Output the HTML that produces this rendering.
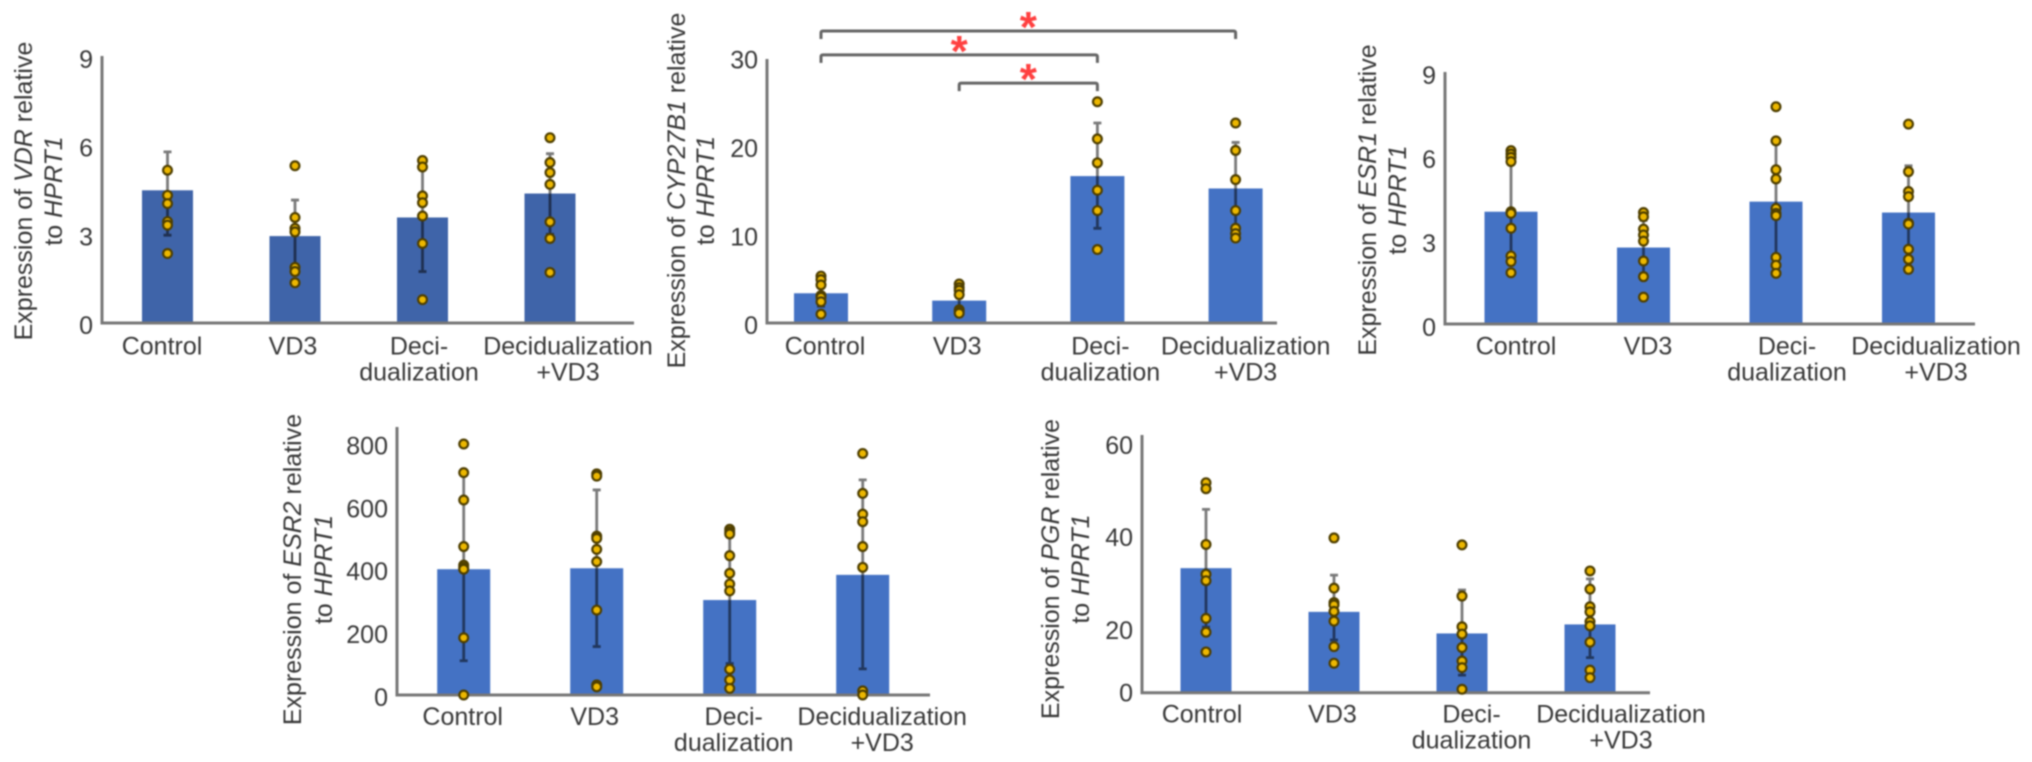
<!DOCTYPE html>
<html lang="en">
<head>
<meta charset="utf-8">
<title>Gene expression relative to HPRT1</title>
<style>
html,body{margin:0;padding:0;background:#fff;width:2032px;height:762px;overflow:hidden}
svg{display:block;filter:blur(.8px)}
text{font-family:"Liberation Sans",sans-serif;font-size:25px;fill:#383838}
</style>
</head>
<body>
<svg id="figure" xmlns="http://www.w3.org/2000/svg" width="2032" height="762" viewBox="0 0 2032 762"></svg>
<script>
const categories = [['Control'], ['VD3'], ['Deci-', 'dualization'], ['Decidualization', '+VD3']];

const vdrTicks = [0, 3, 6, 9];
const vdrMeans = [4.49, 2.94, 3.57, 4.38];
const vdrErrHigh = [5.79, 4.16, 5.4, 5.73];
const vdrErrLow = [2.97, 1.72, 1.74, 3.0];
const vdrControl = [5.17, 4.32, 4.04, 3.43, 3.31, 2.35];
const vdrVd3 = [5.32, 3.57, 3.2, 3.08, 1.88, 1.74, 1.36];
const vdrDecid = [5.5, 5.28, 4.3, 4.07, 3.62, 2.69, 0.79];
const vdrDecidVd3 = [6.27, 5.43, 5.09, 4.69, 3.42, 2.86, 1.71];

const cypTicks = [0, 10, 20, 30];
const cypMeans = [3.36, 2.53, 16.6, 15.2];
const cypErrHigh = [4.8, 3.6, 22.6, 20.4];
const cypErrLow = [1.9, 1.4, 10.7, 10.0];
const cypControl = [5.3, 4.9, 4.3, 3.1, 2.9, 2.4, 1.0];
const cypVd3 = [4.4, 4.0, 3.7, 3.2, 1.5, 1.3, 1.1];
const cypDecid = [25.0, 20.8, 18.1, 15.0, 12.7, 8.3];
const cypDecidVd3 = [22.6, 19.5, 16.2, 12.7, 10.7, 10.1, 9.6];
const sigFrom = [0, 0, 1];
const sigTo = [3, 2, 2];
const sigLevel = [33.0, 30.3, 27.1];

const esr1Ticks = [0, 3, 6, 9];
const esr1Means = [4.01, 2.73, 4.37, 3.98];
const esr1ErrHigh = [5.8, 3.7, 6.54, 5.65];
const esr1ErrLow = [2.2, 1.8, 2.2, 2.3];
const esr1Control = [6.19, 6.07, 5.95, 5.8, 4.01, 3.95, 3.42, 2.43, 2.23, 1.83];
const esr1Vd3 = [3.98, 3.83, 3.39, 3.18, 2.96, 2.25, 1.69, 0.96];
const esr1Decid = [7.76, 6.54, 5.51, 5.18, 4.13, 3.95, 3.87, 2.38, 2.1, 1.81];
const esr1DecidVd3 = [7.14, 5.44, 4.73, 4.55, 3.6, 3.57, 2.67, 2.31, 1.95];

const esr2Ticks = [0, 200, 400, 600, 800];
const esr2Means = [400, 403, 302, 382];
const esr2ErrHigh = [700, 652, 505, 684];
const esr2ErrLow = [109, 154, 100, 83];
const esr2Control = [798, 707, 620, 472, 413, 406, 400, 182, 0];
const esr2Vd3 = [703, 696, 505, 498, 463, 424, 270, 32, 26];
const esr2Decid = [527, 519, 512, 443, 387, 353, 331, 82, 48, 21];
const esr2DecidVd3 = [768, 641, 575, 551, 472, 406, 13, 0];

const pgrTicks = [0, 20, 40, 60];
const pgrMeans = [33.3, 23.9, 18.9, 21.2];
const pgrErrHigh = [46, 31.8, 28.6, 31];
const pgrErrLow = [20.6, 16.8, 5.6, 11.2];
const pgrControl = [51.8, 50.5, 38.4, 32.0, 30.6, 22.5, 19.3, 13.0];
const pgrVd3 = [39.8, 29, 25.9, 25.4, 24, 21.9, 14.7, 9.4];
const pgrDecid = [38.3, 27.3, 20.7, 18.7, 14.4, 10.1, 8, 1.1];
const pgrDecidVd3 = [32.7, 28.8, 25, 23.9, 21.8, 20.9, 16.1, 7.2, 4.8];

const NS = 'http://www.w3.org/2000/svg';
const root = document.getElementById('figure');

function make(tag, attrs, parent) {
  const el = document.createElementNS(NS, tag);
  for (const k in attrs) el.setAttribute(k, attrs[k]);
  parent.appendChild(el);
  return el;
}

/* piecewise-linear axis: passes through every tick */
function axisScale(ticks, pixels) {
  return function (v) {
    for (let i = 0; i < ticks.length - 1; i++) {
      if (v <= ticks[i + 1] || i === ticks.length - 2) {
        const t = (v - ticks[i]) / (ticks[i + 1] - ticks[i]);
        return pixels[i] + t * (pixels[i + 1] - pixels[i]);
      }
    }
    return pixels[0];
  };
}

function drawChart(c) {
  const g = make('g', {}, root);
  
  
  const y = axisScale(c.ticks, c.tickPx);
  const xAt = i => c.x0 + i * c.step;
  const base = y(0);

  /* title */
  const t1 = make('text', { transform: 'translate(' + c.titleX[0] + ',' + c.titleY + ') rotate(-90)', 'text-anchor': 'middle' }, g);
  
  
  t1.appendChild(document.createTextNode('Expression of '));
  const gene = make('tspan', { 'font-style': 'italic' }, t1);
  gene.textContent = c.gene;
  t1.appendChild(document.createTextNode(' relative'));
  const t2 = make('text', { transform: 'translate(' + c.titleX[1] + ',' + c.titleY + ') rotate(-90)', 'text-anchor': 'middle' }, g);
  
  
  t2.appendChild(document.createTextNode('to '));
  const ref = make('tspan', { 'font-style': 'italic' }, t2);
  ref.textContent = 'HPRT1';

  /* tick labels */
  c.ticks.forEach(function (tick) {
    const lab = make('text', { x: c.axisX - 9, y: y(tick) + c.labelDy, 'text-anchor': 'end' }, g);
    
    
    lab.textContent = tick;
  });

  /* bars */
  c.means.forEach(function (m, i) {
    const bar = make('rect', { x: xAt(i) - c.barW / 2, y: y(m), width: c.barW, height: base - y(m), fill: c.barFill }, g);
    
    
  });

  /* axes */
  const axis = make('path', { d: 'M' + c.axisX + ' ' + c.axisTop + 'V' + base + 'H' + c.axisEnd, fill: 'none', stroke: '#777', 'stroke-width': 3 }, g);
  
  

  /* error bars */
  c.means.forEach(function (m, i) {
    const x = xAt(i);
    const e = make('path', {
      d: 'M' + x + ' ' + y(c.errHigh[i]) + 'V' + y(c.errLow[i]) +
         'M' + (x - 4) + ' ' + y(c.errHigh[i]) + 'H' + (x + 4) +
         'M' + (x - 4) + ' ' + y(c.errLow[i]) + 'H' + (x + 4),
      fill: 'none', stroke: '#7a7a7a', 'stroke-width': 2.8, style: 'mix-blend-mode:multiply'
    }, g);
    
    
  });

  /* individual points */
  c.points.forEach(function (series, i) {
    series.forEach(function (v) {
      const p = make('circle', { cx: xAt(i), cy: y(v), r: 4.4, fill: '#ecb700', stroke: '#4f3f00', 'stroke-width': 2.2 }, g);
      
      
    });
  });

  /* category labels */
  categories.forEach(function (lines, i) {
    lines.forEach(function (line, j) {
      const lab = make('text', { x: xAt(i) + c.labelDx[i], y: base + c.catDy + j * 26, 'text-anchor': 'middle' }, g);
      
      
      lab.textContent = line;
    });
  });

  /* significance brackets */
  if (c.sig) {
    c.sig.from.forEach(function (a, k) {
      const xa = xAt(a), xb = xAt(c.sig.to[k]), ly = y(c.sig.level[k]);
      const br = make('path', {
        d: 'M' + xa + ' ' + (ly + 8) + 'V' + (ly + 2) + 'Q' + xa + ' ' + ly + ' ' + (xa + 2) + ' ' + ly +
           'H' + (xb - 2) + 'Q' + xb + ' ' + ly + ' ' + xb + ' ' + (ly + 2) + 'V' + (ly + 8),
        fill: 'none', stroke: '#666', 'stroke-width': 3
      }, g);
      
      
      const star = make('text', { x: (xa + xb) / 2, y: ly + 11, 'text-anchor': 'middle', style: 'font-size:44px;fill:#ff4040;font-weight:bold' }, g);
      
      
      star.textContent = '*';
    });
  }
}

drawChart({
  name: 'vdr', gene: 'VDR', ticks: vdrTicks, tickPx: [323, 234.3, 145.7, 57],
  means: vdrMeans, errHigh: vdrErrHigh, errLow: vdrErrLow,
  points: [vdrControl, vdrVd3, vdrDecid, vdrDecidVd3],
  x0: 167.5, step: 127.5, barW: 51, barFill: '#3f64a9',
  axisX: 102, axisTop: 56, axisEnd: 634, labelDy: 11, catDy: 31.7,
  labelDx: [-5.5, -2, -3.5, 18], titleX: [32, 62], titleY: 191
});

drawChart({
  name: 'cyp27b1', gene: 'CYP27B1', ticks: cypTicks, tickPx: [323, 234.5, 146, 57.5],
  means: cypMeans, errHigh: cypErrHigh, errLow: cypErrLow,
  points: [cypControl, cypVd3, cypDecid, cypDecidVd3],
  x0: 821, step: 138.2, barW: 54, barFill: '#4472c4',
  axisX: 767, axisTop: 59, axisEnd: 1277, labelDy: 11, catDy: 31.7,
  labelDx: [4, -2, 3, 10], titleX: [685, 714], titleY: 190.5,
  sig: { from: sigFrom, to: sigTo, level: sigLevel }
});

drawChart({
  name: 'esr1', gene: 'ESR1', ticks: esr1Ticks, tickPx: [324, 240, 156, 72],
  means: esr1Means, errHigh: esr1ErrHigh, errLow: esr1ErrLow,
  points: [esr1Control, esr1Vd3, esr1Decid, esr1DecidVd3],
  x0: 1511, step: 132.5, barW: 53, barFill: '#4472c4',
  axisX: 1445, axisTop: 72, axisEnd: 1975, labelDy: 12, catDy: 30.7,
  labelDx: [5, 4.5, 11, 27.5], titleX: [1376, 1406], titleY: 200
});

drawChart({
  name: 'esr2', gene: 'ESR2', ticks: esr2Ticks, tickPx: [695, 632.1, 569.2, 506.3, 443.4],
  means: esr2Means, errHigh: esr2ErrHigh, errLow: esr2ErrLow,
  points: [esr2Control, esr2Vd3, esr2Decid, esr2DecidVd3],
  x0: 463.7, step: 133, barW: 53, barFill: '#4472c4',
  axisX: 397, axisTop: 427, axisEnd: 930, labelDy: 11, catDy: 30,
  labelDx: [-1, -2, 4, 19.5], titleX: [301, 332], titleY: 569.5
});

drawChart({
  name: 'pgr', gene: 'PGR', ticks: pgrTicks, tickPx: [692.7, 630, 537, 445],
  means: pgrMeans, errHigh: pgrErrHigh, errLow: pgrErrLow,
  points: [pgrControl, pgrVd3, pgrDecid, pgrDecidVd3],
  x0: 1206, step: 128, barW: 51, barFill: '#4472c4',
  axisX: 1142, axisTop: 435, axisEnd: 1650, labelDy: 9, catDy: 29.6,
  labelDx: [-4, -1.5, 9.5, 31], titleX: [1059, 1089], titleY: 569
});
</script>
</body>
</html>
